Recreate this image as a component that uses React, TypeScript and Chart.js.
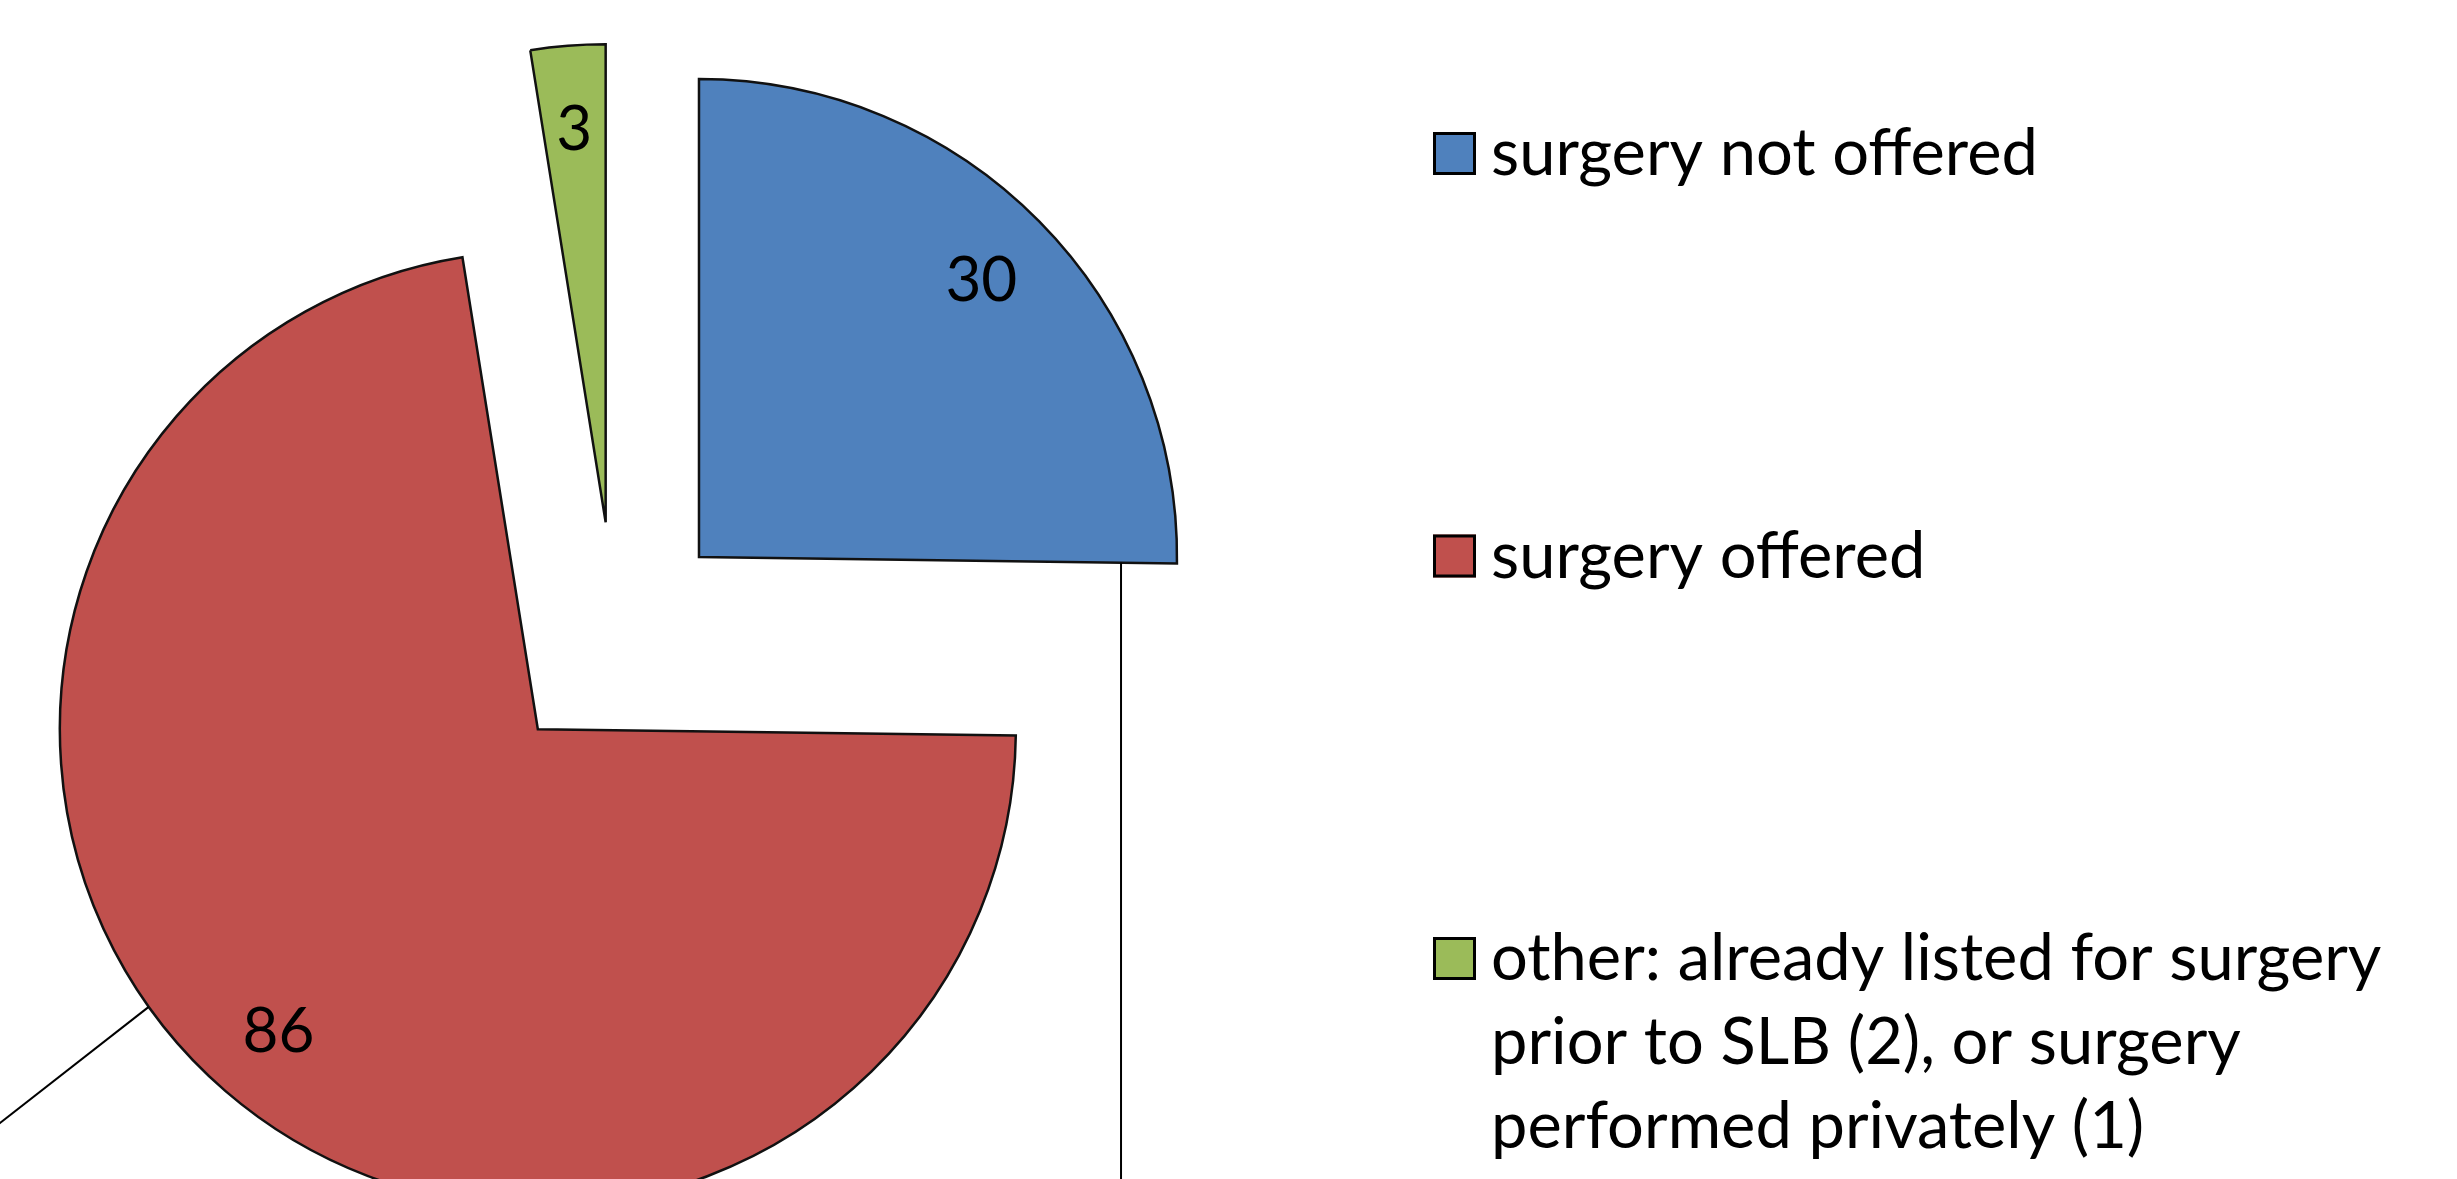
import React, { useEffect, useRef } from "react";
import { Chart, registerables } from "chart.js";

Chart.register(...registerables);

// ---- data ----
const categories: (string | string[])[] = [
  "surgery not offered",
  "surgery offered",
  ["other: already listed for surgery", "prior to SLB (2), or surgery", "performed privately (1)"],
];
const counts = [30, 86, 3];
const sliceColors = ["#4F81BD", "#C0504D", "#9BBB59"];

const W = 2457;
const H = 1179;
const FONT = "Lato, 'Open Sans', sans-serif";

const explodePlugin = {
  id: "explode",
  afterDatasetUpdate(chart: any, args: any, opts: any) {
    const d = opts.distance || 0;
    args.meta.data.forEach((arc: any) => {
      const mid = (arc.startAngle + arc.endAngle) / 2;
      arc.x += Math.cos(mid) * d;
      arc.y += Math.sin(mid) * d;
    });
  },
};

const leaderPlugin = {
  id: "leaders",
  afterDatasetsDraw(chart: any, _args: any, opts: any) {
    const ctx = chart.ctx;
    const meta = chart.getDatasetMeta(0);
    ctx.save();
    ctx.strokeStyle = "#000";
    ctx.lineWidth = 2;
    (opts.lines || []).forEach((l: any) => {
      const arc = meta.data[l.index];
      if (!arc) return;
      const ang = l.edge === "end" ? arc.endAngle : ((l.angleDeg - 90) * Math.PI) / 180;
      const r = arc.outerRadius * l.ratio;
      const x0 = arc.x + Math.cos(ang) * r;
      const y0 = arc.y + Math.sin(ang) * r;
      const dir = (l.dirDeg * Math.PI) / 180;
      ctx.beginPath();
      ctx.moveTo(x0, y0);
      ctx.lineTo(x0 + Math.cos(dir) * l.length, y0 + Math.sin(dir) * l.length);
      ctx.stroke();
    });
    ctx.restore();
  },
};

const labelPlugin = {
  id: "sliceLabels",
  afterDatasetsDraw(chart: any, _args: any, opts: any) {
    const ctx = chart.ctx;
    const meta = chart.getDatasetMeta(0);
    const values = chart.data.datasets[0].data;
    ctx.save();
    ctx.font = `${opts.size}px ${FONT}`;
    ctx.fillStyle = "#000";
    ctx.textAlign = "center";
    ctx.textBaseline = "alphabetic";
    meta.data.forEach((arc: any, i: number) => {
      const mid = (arc.startAngle + arc.endAngle) / 2;
      const r = arc.outerRadius * opts.ratio;
      const x = arc.x + Math.cos(mid) * r;
      const y = arc.y + Math.sin(mid) * r;
      const text = String(values[i]);
      const m = ctx.measureText(text);
      ctx.fillText(text, x, y + m.actualBoundingBoxAscent / 2);
    });
    ctx.restore();
  },
};

const legendPlugin = {
  id: "sideLegend",
  afterDraw(chart: any, _args: any, opts: any) {
    const ctx = chart.ctx;
    const labels = chart.data.labels;
    const colors = chart.data.datasets[0].backgroundColor;
    ctx.save();
    ctx.font = `${opts.size}px ${FONT}`;
    ctx.textAlign = "left";
    ctx.textBaseline = "alphabetic";
    labels.forEach((lab: any, i: number) => {
      const base = opts.firstBaseline + i * opts.step;
      const bs = opts.box;
      ctx.fillStyle = colors[i];
      ctx.fillRect(opts.boxX, base - bs, bs, bs);
      ctx.strokeStyle = "#000";
      ctx.lineWidth = 3;
      ctx.strokeRect(opts.boxX + 1.5, base - bs + 1.5, bs - 3, bs - 3);
      ctx.fillStyle = "#000";
      const lines = Array.isArray(lab) ? lab : [lab];
      lines.forEach((ln: string, j: number) => {
        ctx.fillText(ln, opts.textX, base + j * opts.lineHeight);
      });
    });
    ctx.restore();
  },
};

export default function App() {
  const ref = useRef<HTMLCanvasElement | null>(null);
  useEffect(() => {
    if (!ref.current) return;
    const chart = new Chart(ref.current, {
      type: "pie",
      data: {
        labels: categories as any,
        datasets: [
          {
            data: counts,
            backgroundColor: sliceColors,
            borderColor: "#111111",
            borderWidth: 2.5,
            borderJoinStyle: "miter",
          } as any,
        ],
      },
      options: {
        responsive: false,
        devicePixelRatio: 1,
        animation: false,
        events: [],
        radius: 478,
        layout: { padding: { left: 0, right: 1227, top: 101, bottom: 0 } },
        plugins: {
          legend: { display: false },
          tooltip: { enabled: false },
          title: { display: false },
          explode: { distance: 118 },
          sliceLabels: { size: 62, ratio: 0.83 },
          leaders: {
            lines: [
              { index: 0, edge: "end", ratio: 0.883, dirDeg: 90, length: 900 },
              { index: 1, angleDeg: 234.5, ratio: 1, dirDeg: 142, length: 400 },
            ],
          },
          sideLegend: {
            size: 65,
            boxX: 1433,
            box: 43,
            textX: 1491,
            firstBaseline: 175,
            step: 402.5,
            lineHeight: 84,
          },
        } as any,
      },
      plugins: [explodePlugin, leaderPlugin, labelPlugin, legendPlugin],
    });
    return () => chart.destroy();
  }, []);

  return (
    <div style={{ position: "fixed", left: 0, top: 0, width: W, height: H, background: "#fff" }}>
      <canvas ref={ref} width={W} height={H} style={{ display: "block", width: W, height: H }} />
    </div>
  );
}
